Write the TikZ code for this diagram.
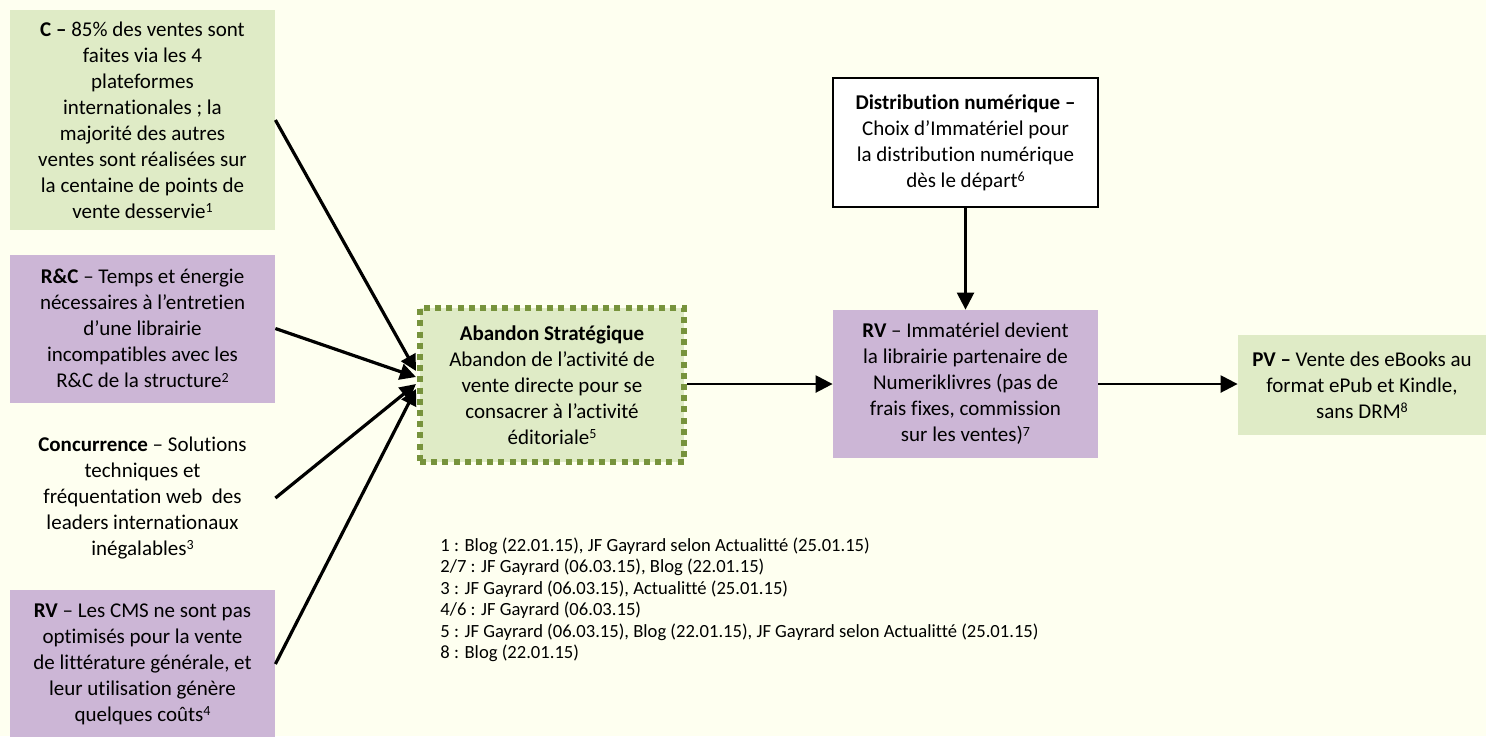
\documentclass[tikz,border=0pt]{standalone}
\usepackage{fontspec}
\setmainfont{Carlito}[Ligatures=NoCommon]
\usetikzlibrary{arrows.meta}
\definecolor{bgcream}{HTML}{FEFFF0}
\definecolor{boxgreen}{HTML}{DFEBC6}
\definecolor{boxpurple}{HTML}{CCB6D6}
\definecolor{olivedot}{HTML}{77933C}
\newcommand{\supnum}[1]{\raisebox{0.55ex}{\fontsize{7}{7}\selectfont #1}}
\begin{document}
\begin{tikzpicture}[x=0.5pt,y=-0.5pt,
  txt/.style={inner sep=0pt, align=center, font=\fontsize{10.5}{13}\selectfont},
  gbox/.style={txt, fill=boxgreen, minimum width=132.5pt},
  pbox/.style={txt, fill=boxpurple, minimum width=132.5pt},
  inarrow/.style={line width=1.6pt, -{Triangle[length=8pt,width=8pt]}},
  flowarrow/.style={line width=1.2pt, -{Triangle[length=8.5pt,width=8.5pt]}}]
\useasboundingbox (0,0) rectangle (1486,736);
\fill[bgcream] (0,0) rectangle (1486,736);

% left column
\node[gbox, minimum height=110pt] (c) at (142.5,120)
  {\textbf{C –} 85\% des ventes sont\\faites via les 4\\plateformes\\internationales ; la\\majorité des autres\\ventes sont réalisées sur\\la centaine de points de\\vente desservie\supnum{1}};
\node[pbox, minimum height=74pt] (rc) at (142.5,328.5)
  {\textbf{R\&C} – Temps et énergie\\nécessaires à l’entretien\\d’une librairie\\incompatibles avec les\\R\&C de la structure\supnum{2}};
\node[txt, minimum width=132.5pt] (conc) at (142.5,498)
  {\textbf{Concurrence} – Solutions\\techniques et\\fréquentation web\ \ des\\leaders internationaux\\inégalables\supnum{3}};
\node[pbox, minimum height=74pt] (rv1) at (142.5,664)
  {\textbf{RV} – Les CMS ne sont pas\\optimisés pour la vente\\de littérature générale, et\\leur utilisation génère\\quelques coûts\supnum{4}};

% central box
\node[txt, fill=boxgreen, draw=olivedot, line width=3pt, dash pattern=on 3pt off 2.6pt,
  minimum width=132pt, minimum height=77pt] (ab) at (552,385)
  {\textbf{Abandon Stratégique}\\Abandon de l’activité de\\vente directe pour se\\consacrer à l’activité\\éditoriale\supnum{5}};

% right part
\node[txt, fill=white, draw=black, line width=1pt, minimum width=132.5pt, minimum height=64.5pt] (dn) at (965.5,142.5)
  {\textbf{Distribution numérique –}\\Choix d’Immatériel pour\\la distribution numérique\\dès le départ\supnum{6}};
\node[pbox, minimum height=74pt] (rv2) at (965.5,384)
  {\textbf{RV} – Immatériel devient\\la librairie partenaire de\\Numeriklivres (pas de\\frais fixes, commission\\sur les ventes)\supnum{7}};
\node[gbox, minimum width=124pt, minimum height=50pt] (pv) at (1362,385)
  {\textbf{PV –} Vente des eBooks au\\format ePub et Kindle,\\sans DRM\supnum{8}};

% footnotes
\node[inner sep=0pt, anchor=north west, align=left, font=\fontsize{9.3}{10.75}\selectfont] (notes) at (440,537)
  {1 : Blog (22.01.15), JF Gayrard selon Actualitté (25.01.15)\\
   2/7 : JF Gayrard (06.03.15), Blog (22.01.15)\\
   3 : JF Gayrard (06.03.15), Actualitté (25.01.15)\\
   4/6 : JF Gayrard (06.03.15)\\
   5 : JF Gayrard (06.03.15), Blog (22.01.15), JF Gayrard selon Actualitté (25.01.15)\\
   8 : Blog (22.01.15)};

% converging arrows
\coordinate (t1) at (416,371);
\coordinate (t2) at (416,377);
\coordinate (t3) at (416,384);
\coordinate (t4) at (416,389);
\draw[inarrow] (c.east) -- (t1);
\draw[inarrow] (rc.east) -- (t2);
\draw[inarrow] (conc.east) -- (t3);
\draw[inarrow] (rv1.east) -- (t4);

% flow arrows
\draw[flowarrow] (ab.east |- rv2.west) -- (rv2.west);
\draw[flowarrow] (dn.south) -- (rv2.north);
\draw[flowarrow] (rv2.east) -- (pv.west |- rv2.east);
\end{tikzpicture}
\end{document}
